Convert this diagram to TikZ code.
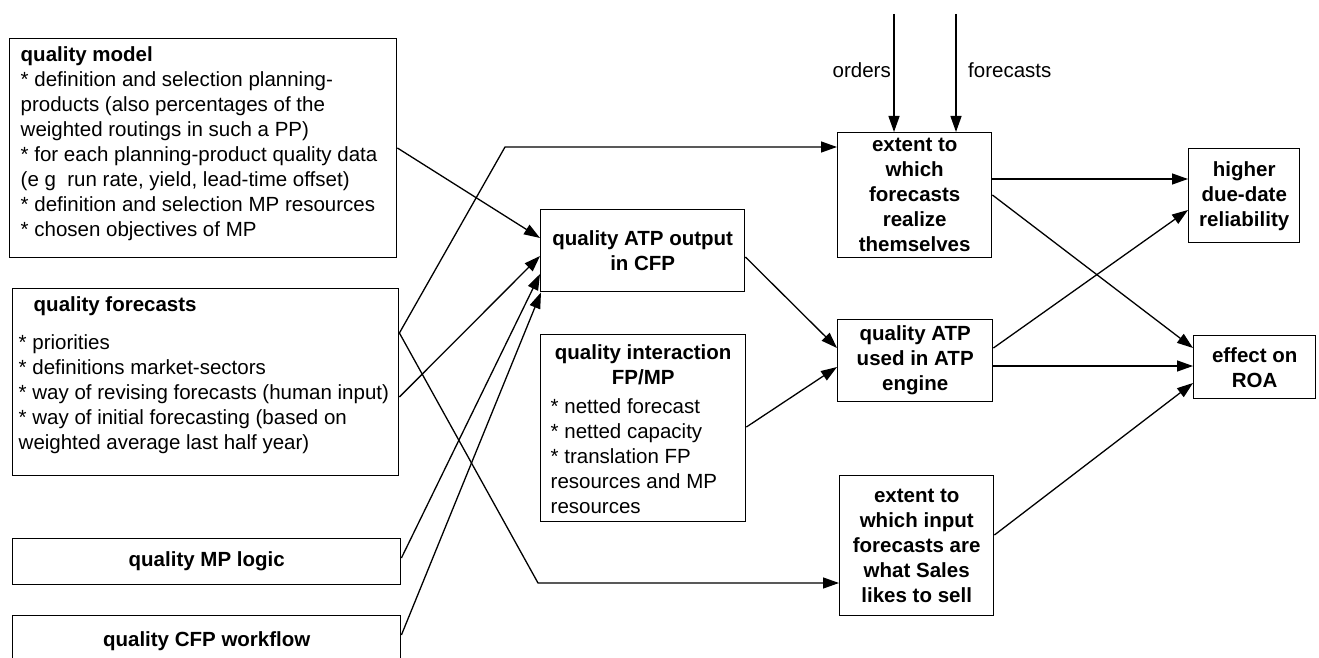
\documentclass[tikz,border=0pt]{standalone}
\usepackage{fontspec}
\setmainfont{Liberation Sans}
\usetikzlibrary{arrows.meta,calc}
\newcommand\itm{\relax* }
\begin{document}
\begin{tikzpicture}[x=1pt,y=-1pt,
  every node/.style={font=\fontsize{20.5}{25}\selectfont},
  box/.style={draw, line width=1.4pt, inner sep=0pt, anchor=north west},
  cbox/.style={box, align=center, font=\fontsize{20.5}{25}\selectfont\bfseries},
  flow/.style={line width=1.3pt, -{Triangle[length=16pt,width=11pt]}}]
\fill[white] (0,0) rectangle (1319,658);
\useasboundingbox (0,0) rectangle (1319,658);
\clip (0,0) rectangle (1319,658);

% left column: quality inputs
\node[box] (qm) at (9,38) {\parbox[c][219pt][t]{387pt}{\raggedright\leftskip=11pt\rule{0pt}{23pt}\textbf{quality model}\\
\itm definition and selection planning-\\
products (also percentages of the\\
weighted routings in such a PP)\\
\itm for each planning-product quality data\\
(e g~~run rate, yield, lead-time offset)\\
\itm definition and selection MP resources\\
\itm chosen objectives of MP}};

\node[box] (qf) at (12,288) {\parbox[c][187pt][t]{386pt}{\raggedright\leftskip=6pt\rule{0pt}{23pt}\hspace*{15pt}\textbf{quality forecasts}\\[13pt]
\itm priorities\\
\itm definitions market-sectors\\
\itm way of revising forecasts (human input)\\
\itm way of initial forecasting (based on\\
weighted average last half year)}};

\node[cbox, minimum width=388pt, minimum height=46pt] (mpl) at (12,538) {quality MP logic};
\node[cbox, minimum width=388pt, minimum height=51pt] (cfp) at (12,615) {quality CFP workflow};

% middle column
\node[cbox, minimum width=204pt, minimum height=82pt] (atpo) at (540,209) {quality ATP output\\in CFP};
\node[box] (inter) at (540,334) {\parbox[c][187pt][t]{205pt}{{\centering\rule{0pt}{25pt}\textbf{quality interaction}\\\textbf{FP/MP}\par}\vspace{4pt}{\raggedright\leftskip=10pt
\itm netted forecast\\
\itm netted capacity\\
\itm translation FP\\
resources and MP\\
resources\par}}};

% third column
\node[cbox, minimum width=154pt, minimum height=125pt] (efr) at (837,132) {extent to\\which\\forecasts\\realize\\themselves};
\node[cbox, minimum width=155pt, minimum height=82pt] (atpu) at (837,319) {quality ATP\\used in ATP\\engine};
\node[cbox, minimum width=154pt, minimum height=140pt] (efs) at (839,475) {extent to\\which input\\forecasts are\\what Sales\\likes to sell};

% results
\node[cbox, minimum width=111pt, minimum height=94pt] (hdd) at (1188,148) {higher\\due-date\\reliability};
\node[cbox, minimum width=122pt, minimum height=63pt] (roa) at (1193,335) {effect on\\ROA};

% external inputs
\coordinate (ord) at (894,14);
\coordinate (fct) at (956,14);
\node[anchor=east, inner sep=0pt] (ordl) at (891,70) {orders};
\node[anchor=west, inner sep=0pt] (fctl) at (968,70) {forecasts};
\draw[flow] (ord) -- (ord |- efr.north);
\draw[flow] (fct) -- (fct |- efr.north);

% connectors
\coordinate (b1) at (505,147);
\coordinate (b2) at (538,583);
\draw[flow] ($(qm.north east)+(0,110)$) -- ($(atpo.north west)+(0,29)$);
\draw[flow] ($(qf.north east)+(0,45)$) -- (b1) -- ($(efr.north west)+(0,15)$);
\draw[flow] ($(qf.north east)+(0,45)$) -- (b2) -- ($(efs.north west)+(0,108)$);
\draw[flow] ($(qf.north east)+(0,109)$) -- ($(atpo.north west)+(0,47)$);
\draw[flow] ($(mpl.north east)+(0,20)$) -- ($(atpo.north west)+(0,65)$);
\draw[flow] ($(cfp.north east)+(0,20)$) -- ($(atpo.south west)+(1,0)$);
\draw[flow] ($(atpo.north east)+(0,48)$) -- ($(atpu.north west)+(0,29)$);
\draw[flow] ($(inter.north east)+(0,93)$) -- ($(atpu.north west)+(0,48)$);
\draw[flow] ($(efr.north east)+(0,47)$) -- ($(hdd.north west)+(0,31)$);
\draw[flow] ($(efr.north east)+(0,63)$) -- ($(roa.north west)+(0,13)$);
\draw[flow] ($(atpu.north east)+(0,29)$) -- ($(hdd.north west)+(0,62)$);
\draw[flow] ($(atpu.north east)+(0,47)$) -- ($(roa.north west)+(0,31)$);
\draw[flow] ($(efs.north east)+(0,60)$) -- ($(roa.north west)+(0,48)$);
\end{tikzpicture}
\end{document}
